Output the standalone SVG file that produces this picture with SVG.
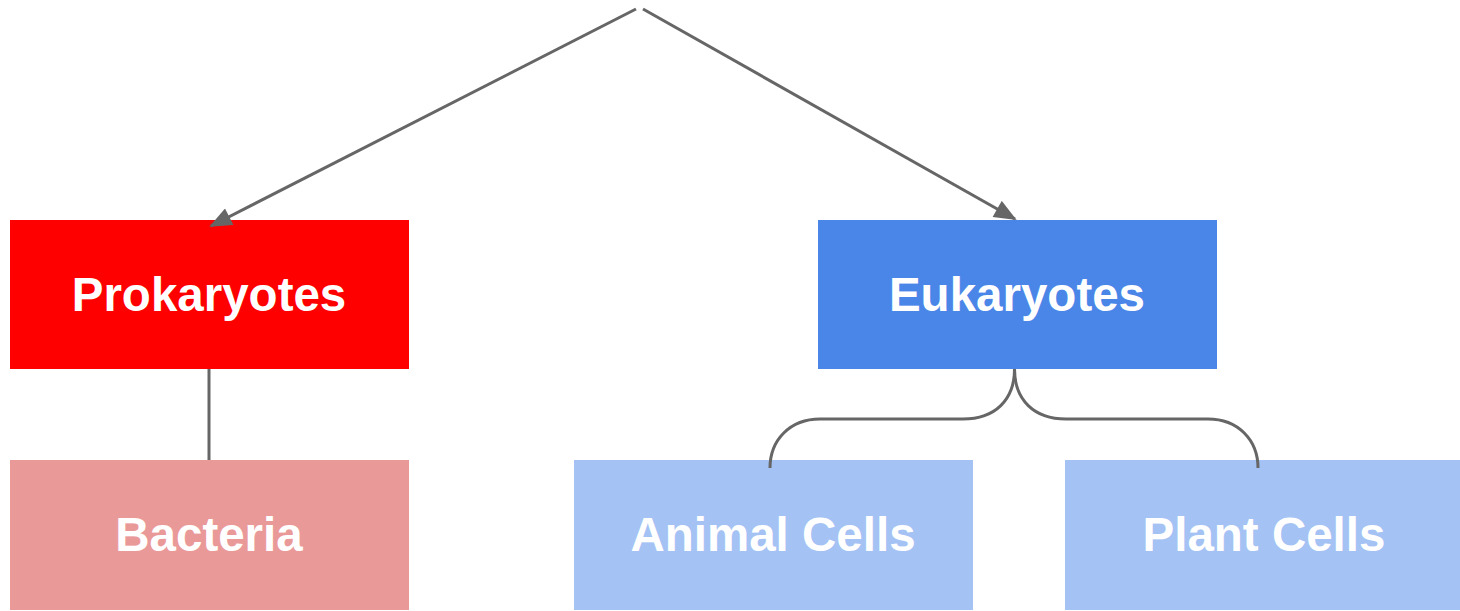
<svg xmlns="http://www.w3.org/2000/svg" width="1460" height="611" viewBox="0 0 1460 611">
<style>
.lbl{font-family:"Liberation Sans",Arial,sans-serif;font-weight:bold;font-size:47.5px;fill:#ffffff;text-anchor:middle}
.con{fill:none;stroke:#666666;stroke-width:3}
</style>
<defs>
<marker id="ah" viewBox="0 0 12 10" refX="11" refY="5" markerWidth="8" markerHeight="6.2" markerUnits="strokeWidth" orient="auto">
<path d="M0,0 L12,5 L0,10 z" fill="#666666"/>
</marker>
</defs>
<rect width="1460" height="611" fill="#ffffff"/>
<g id="prokaryotes"><rect x="10" y="220" width="399" height="149" fill="#ff0000"/><text class="lbl" x="209" y="311">Prokaryotes</text></g>
<g id="eukaryotes"><rect x="818" y="220" width="399" height="149" fill="#4a86e8"/><text class="lbl" x="1017" y="311">Eukaryotes</text></g>
<g id="bacteria"><rect x="10" y="460" width="399" height="150" fill="#ea9999"/><text class="lbl" x="209" y="551">Bacteria</text></g>
<g id="animal"><rect x="574" y="460" width="399" height="150" fill="#a4c2f4"/><text class="lbl" x="773" y="551">Animal Cells</text></g>
<g id="plant"><rect x="1065" y="460" width="399" height="150" fill="#a4c2f4"/><text class="lbl" x="1264" y="551">Plant Cells</text></g>
<g id="connectors">
<line class="con" x1="636" y1="9" x2="211" y2="226" marker-end="url(#ah)"/>
<line class="con" x1="643" y1="9" x2="1015" y2="219" marker-end="url(#ah)"/>
<line class="con" x1="209" y1="369" x2="209" y2="460"/>
<path class="con" d="M1014.5,369 C1014.5,400 995,419 963,419 L820,419 C790,419 770,440 770,468"/>
<path class="con" d="M1014.5,369 C1014.5,400 1034,419 1066,419 L1208,419 C1238,419 1258,440 1258,468"/>
</g>
</svg>
